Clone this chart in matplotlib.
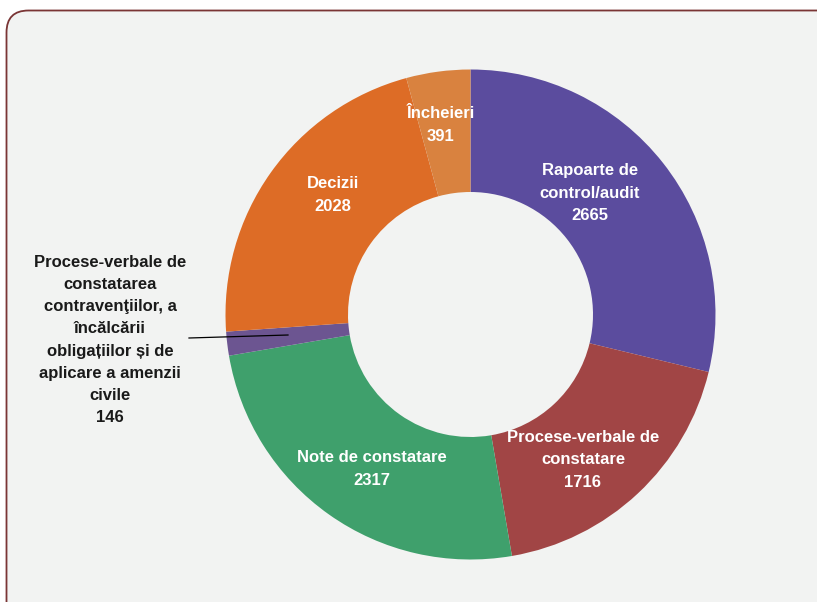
import matplotlib
matplotlib.use("Agg")
import matplotlib.pyplot as plt
from matplotlib.patches import FancyBboxPatch

# Document categories and counts
categories = [
    "Rapoarte de\ncontrol/audit",
    "Procese-verbale de\nconstatare",
    "Note de constatare",
    "Procese-verbale de\nconstatarea\ncontravenţiilor, a\nîncălcării\nobligațiilor și de\naplicare a amenzii\ncivile",
    "Decizii",
    "Încheieri",
]
values = [2665, 1716, 2317, 146, 2028, 391]
colors = ["#5B4C9E", "#A14545", "#3FA06C", "#6C5591", "#DD6C26", "#D9823F"]

# label anchor points (figure pixels, origin top-left) and text colours
label_pos = [(590, 193), (583, 460), (372, 469), (110, 340), (333, 195), (441, 125)]
label_color = ["white", "white", "white", "#1A1A1A", "white", "white"]

W, H = 817, 602
fig = plt.figure(figsize=(W / 100, H / 100), dpi=100)
fig.patch.set_facecolor("white")
ax = fig.add_axes([0, 0, 1, 1])

# rounded panel
panel = FancyBboxPatch((6.5, -30), 840, H - 10.5 + 30,
                       boxstyle="round,pad=0,rounding_size=22",
                       facecolor="#F2F3F2", edgecolor="#7A3535", linewidth=1.3,
                       zorder=0)
ax.add_patch(panel)

cx, cy = 470.5, H - 314.5
R = 245
wedges, _ = ax.pie(values, colors=colors, startangle=90, counterclock=False,
                   radius=R, center=(cx, cy), frame=True,
                   wedgeprops=dict(width=R * 0.5, linewidth=0))

fam = ["Liberation Sans Narrow", "Liberation Sans", "DejaVu Sans"]
for name, v, (px, py), c in zip(categories, values, label_pos, label_color):
    ax.text(px, H - py, f"{name}\n{v}", ha="center", va="center",
            color=c, fontsize=12, fontweight="bold", family=fam,
            linespacing=1.6, zorder=5)

# leader line to the small slice
ax.plot([189, 288], [H - 338, H - 335], color="black", linewidth=0.9, zorder=5)

ax.set_xlim(0, W)
ax.set_ylim(0, H)
ax.set_aspect("equal")
ax.axis("off")

fig.savefig("out.png", dpi=100, facecolor="white")
